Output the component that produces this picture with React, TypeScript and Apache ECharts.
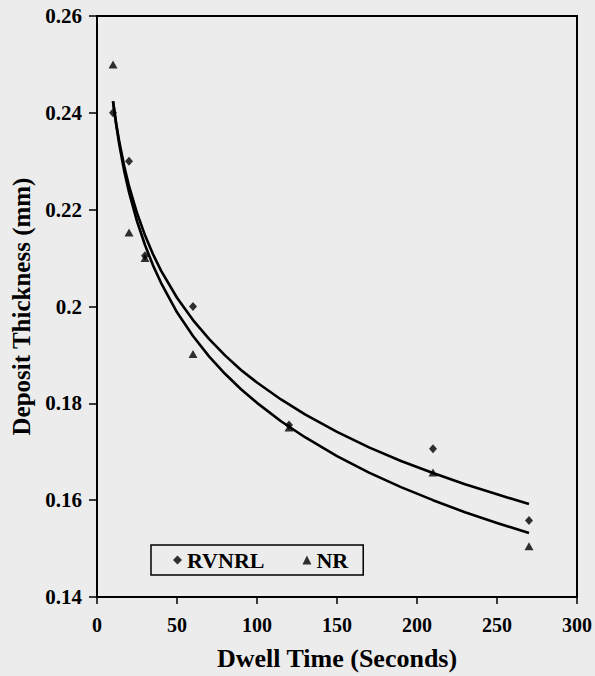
import React, { useEffect, useRef } from "react";
import * as echarts from "echarts";

// Measured points (Dwell time in seconds, deposit thickness in mm)
const dwellTimes = [10, 20, 30, 60, 120, 210, 270];
const rvnrlValues = [0.24, 0.23, 0.2105, 0.2, 0.1755, 0.1706, 0.1558];
const nrValues = [0.25, 0.2153, 0.21, 0.1902, 0.175, 0.1657, 0.1505];

// Trend curves
const fitTimes = [10, 12, 14, 17, 20, 25, 30, 35, 40, 50, 60, 70, 80, 90, 100, 115, 130, 150, 170, 190, 210, 230, 250, 270];
const rvnrlFit = [0.2424, 0.2378, 0.2339, 0.229, 0.2249, 0.2193, 0.2147, 0.2108, 0.2074, 0.2018, 0.1972, 0.1933, 0.1899, 0.1869, 0.1843, 0.1808, 0.1777, 0.1741, 0.1709, 0.1681, 0.1656, 0.1633, 0.1612, 0.1592];
const nrFit = [0.2424, 0.2375, 0.2333, 0.228, 0.2236, 0.2176, 0.2127, 0.2085, 0.2049, 0.1988, 0.1939, 0.1897, 0.1861, 0.1829, 0.1801, 0.1763, 0.173, 0.1691, 0.1657, 0.1627, 0.16, 0.1575, 0.1553, 0.1532];

const xTicks = { min: 0, max: 300, interval: 50 };
const yTicks = { min: 0.14, max: 0.26, interval: 0.02 };

const seriesNames = ["RVNRL", "NR"];
const xTitle = "Dwell Time (Seconds)";
const yTitle = "Deposit Thickness (mm)";

const FONT = "'Liberation Serif', 'Times New Roman', serif";
const INK = "#000000";

function zip(xs: number[], ys: number[]) {
  return xs.map((x, i) => [x, ys[i]]);
}

export default function App() {
  const ref = useRef<HTMLDivElement>(null);
  useEffect(() => {
    if (!ref.current) return;
    const chart = echarts.init(ref.current, undefined, { renderer: "svg" });
    const labelStyle = {
      color: INK,
      fontFamily: FONT,
      fontWeight: "bold" as const,
      fontSize: 21,
    };
    chart.setOption({
      animation: false,
      backgroundColor: "#ececec",
      grid: {
        left: 97,
        right: 18,
        top: 16,
        bottom: 79,
        outerBoundsMode: "none",
        containLabel: false,
        show: true,
        borderColor: INK,
        borderWidth: 2,
        backgroundColor: "transparent",
      },
      legend: {
        data: seriesNames,
        left: 151,
        top: 545,
        orient: "horizontal",
        borderColor: INK,
        borderWidth: 1.5,
        padding: [4, 15, 4, 22],
        itemWidth: 9,
        itemHeight: 9,
        itemGap: 38,
        textStyle: { ...labelStyle, fontSize: 22 },
        selectedMode: false,
      },
      xAxis: {
        type: "value",
        min: xTicks.min,
        max: xTicks.max,
        interval: xTicks.interval,
        name: xTitle,
        nameLocation: "middle",
        nameGap: 48,
        nameTextStyle: { ...labelStyle, fontSize: 26 },
        axisLine: { show: true, lineStyle: { color: INK, width: 2 } },
        axisTick: { show: true, inside: false, length: 7, lineStyle: { color: INK, width: 1.5 } },
        axisLabel: { ...labelStyle, fontSize: 20, margin: 18 },
        splitLine: { show: false },
      },
      yAxis: {
        type: "value",
        min: yTicks.min,
        max: yTicks.max,
        interval: yTicks.interval,
        name: yTitle,
        nameLocation: "middle",
        nameGap: 62,
        nameRotate: 90,
        nameTextStyle: { ...labelStyle, fontSize: 25 },
        axisLine: { show: true, lineStyle: { color: INK, width: 2 } },
        axisTick: { show: true, inside: false, length: 8, lineStyle: { color: INK, width: 1.5 } },
        axisLabel: {
          ...labelStyle,
          fontSize: 21,
          margin: 15,
          formatter: (v: number) => String(parseFloat(v.toFixed(2))),
        },
        splitLine: { show: false },
      },
      series: [
        {
          name: "RVNRL fit",
          type: "line",
          data: zip(fitTimes, rvnrlFit),
          smooth: false,
          symbol: "none",
          lineStyle: { color: INK, width: 2.6, join: "round" },
          z: 2,
        },
        {
          name: "NR fit",
          type: "line",
          data: zip(fitTimes, nrFit),
          smooth: false,
          symbol: "none",
          lineStyle: { color: INK, width: 2.6, join: "round" },
          z: 2,
        },
        {
          name: seriesNames[0],
          type: "scatter",
          data: zip(dwellTimes, rvnrlValues),
          symbol: "diamond",
          symbolSize: [8, 9],
          itemStyle: { color: INK },
          z: 3,
        },
        {
          name: seriesNames[1],
          type: "scatter",
          data: zip(dwellTimes, nrValues),
          symbol: "triangle",
          symbolSize: [9, 8],
          itemStyle: { color: INK },
          z: 3,
        },
      ],
    });
    return () => chart.dispose();
  }, []);
  return (
    <div
      ref={ref}
      style={{ position: "fixed", left: 0, top: 0, width: 595, height: 676 }}
    />
  );
}
